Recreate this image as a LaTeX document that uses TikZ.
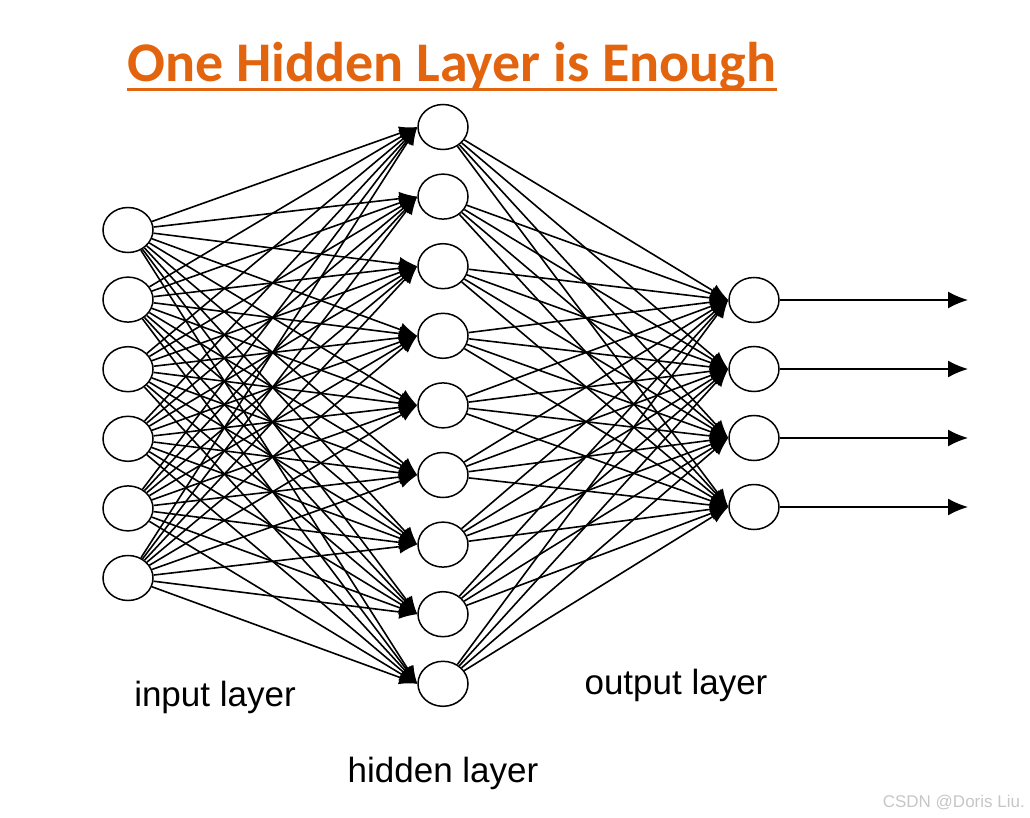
\documentclass[tikz,border=0pt]{standalone}
\usepackage{fontspec}
\setmainfont{Liberation Sans}
\newfontfamily\titlefont{Carlito}
\usepackage{tikz}
\usetikzlibrary{shapes.geometric, arrows.meta}
\definecolor{titleorange}{HTML}{E2640E}

\begin{document}
\begin{tikzpicture}[
    x=1pt, y=-1pt,
    neuron/.style={ellipse, draw, line width=1.5pt, fill=white, minimum width=50pt, minimum height=45pt, inner sep=0pt},
    link/.style={-{Latex[length=18pt,width=14pt]}, line width=1.6pt},
    outarr/.style={-{Latex[length=20pt,width=17pt]}, line width=1.6pt},
    lbl/.style={font=\fontsize{35}{40}\selectfont, anchor=base},
  ]
    \useasboundingbox (0,0) rectangle (1030,818);

    % title
    \node[anchor=base, inner sep=0pt, text=titleorange, font=\titlefont\bfseries\fontsize{56}{64}\selectfont] (title) at (452,82) {One Hidden Layer is Enough};
    \draw[titleorange, line width=3pt] ([yshift=-8pt]title.base west) -- ([yshift=-8pt]title.base east);

    % layers
    \foreach \i in {1,...,6}
      \node[neuron] (in\i) at (128,{230+69.6*(\i-1)}) {};
    \foreach \h in {1,...,9}
      \node[neuron] (hid\h) at (443,{127+69.6*(\h-1)}) {};
    \foreach \o in {1,...,4}
      \node[neuron] (out\o) at (754,{300+69*(\o-1)}) {};

    % connections
    \foreach \i in {1,...,6}
      \foreach \h in {1,...,9}
        \draw[link] (in\i) -- (hid\h.west);
    \foreach \h in {1,...,9}
      \foreach \o in {1,...,4}
        \draw[link] (hid\h) -- (out\o.west);
    \foreach \o in {1,...,4} {
      \coordinate (end\o) at (968,{300+69*(\o-1)});
      \draw[outarr] (out\o.east) -- (end\o);
    }

    % labels
    \node[lbl] (inlbl) at (215,706) {input layer};
    \node[lbl] (outlbl) at (676,694) {output layer};
    \node[lbl] (hidlbl) at (443,782) {hidden layer};
    \node[anchor=base east, inner sep=0pt, text=gray!45, font=\fontsize{17}{20}\selectfont] (mark) at (1025,807) {CSDN @Doris Liu.};
  \end{tikzpicture}
\end{document}
